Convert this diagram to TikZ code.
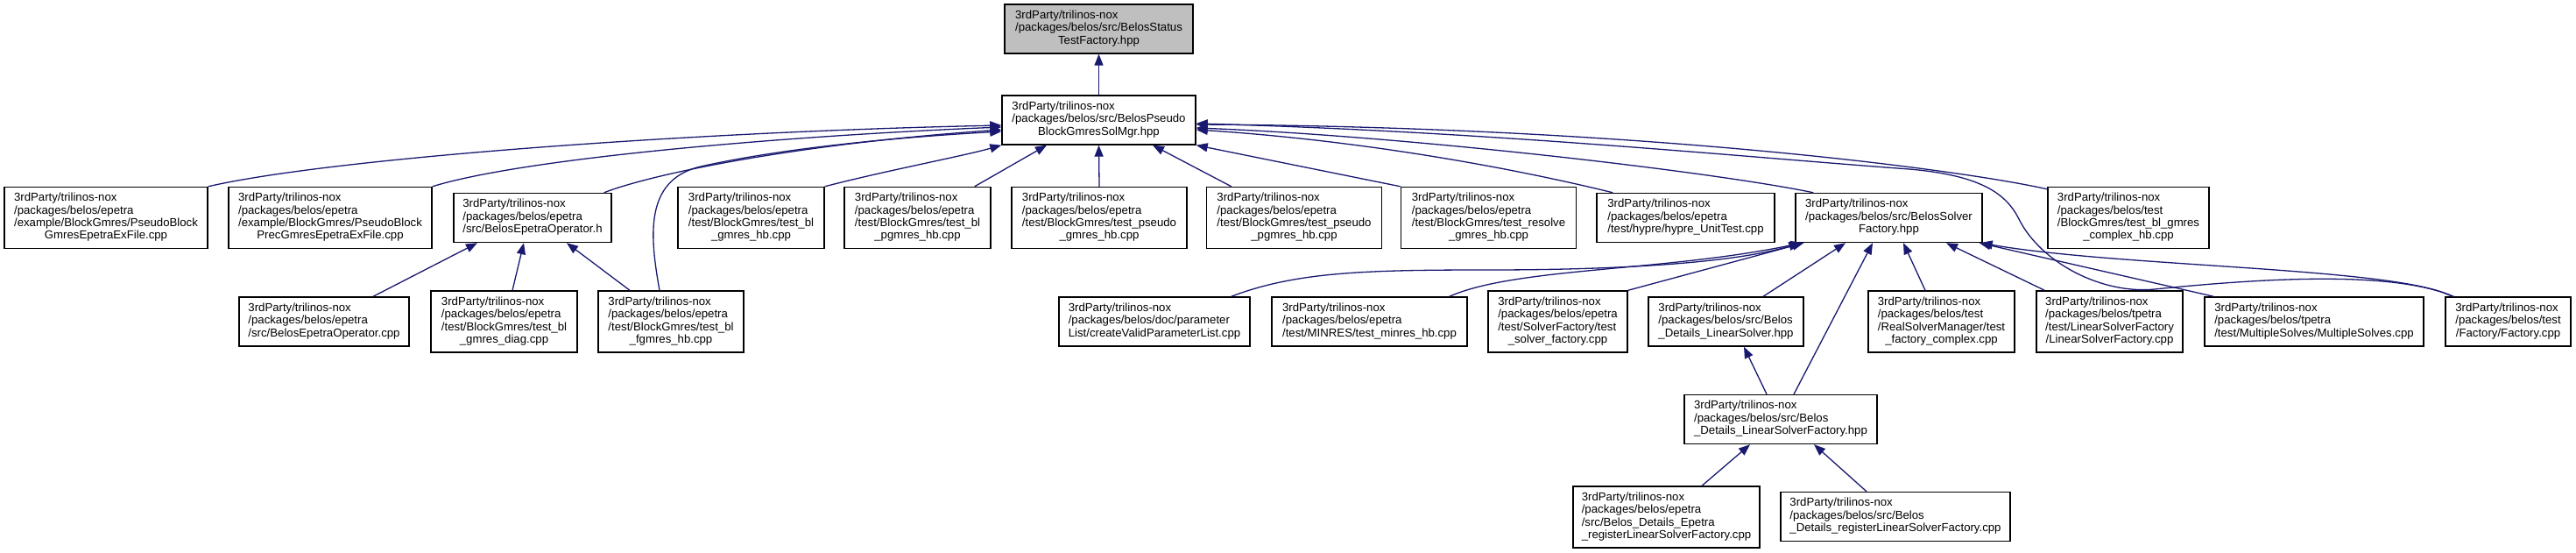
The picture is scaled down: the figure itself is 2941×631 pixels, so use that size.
\documentclass[tikz,border=0pt]{standalone}
\usepackage{fontspec}
\setmainfont{Liberation Sans}
\usetikzlibrary{arrows.meta}
\definecolor{edgeblue}{HTML}{191970}
\definecolor{rootgray}{HTML}{BFBFBF}
\newcommand\ftxt[2]{\begin{tabular}{@{}l@{}}#1\\\multicolumn{1}{@{}c@{}}{#2}\end{tabular}}
\begin{document}
\begin{tikzpicture}[x=1pt,y=-1pt,
  box/.style={draw=black, line width=1.4pt, fill=white, inner sep=0pt, minimum height=56pt,
    font=\fontsize{13.2pt}{14.4pt}\selectfont, text=black},
  tall/.style={minimum height=70pt},
  rootbox/.style={fill=rootgray},
  dep/.style={draw=edgeblue, line width=1.3pt, -{Triangle[length=13pt,width=10pt]}}]
\fill[white] (0,0) rectangle (2941,631);
\useasboundingbox (0,0) rectangle (2941,631);

% top
\node[box,rootbox,minimum width=215pt] (root) at (1254.5,33) {\ftxt{3rdParty/trilinos-nox\\/packages/belos/src/BelosStatus}{TestFactory.hpp}};
\node[box,minimum width=221pt] (sol) at (1254.5,137) {\ftxt{3rdParty/trilinos-nox\\/packages/belos/src/BelosPseudo}{BlockGmresSolMgr.hpp}};

% row 2
\node[box,tall,minimum width=232pt] (a1) at (121,248.5) {\ftxt{3rdParty/trilinos-nox\\/packages/belos/epetra\\/example/BlockGmres/PseudoBlock}{GmresEpetraExFile.cpp}};
\node[box,tall,minimum width=232pt] (a2) at (377,248.5) {\ftxt{3rdParty/trilinos-nox\\/packages/belos/epetra\\/example/BlockGmres/PseudoBlock}{PrecGmresEpetraExFile.cpp}};
\node[box,minimum width=180pt] (a3) at (608,248.5) {\ftxt{3rdParty/trilinos-nox\\/packages/belos/epetra}{/src/BelosEpetraOperator.h}};
\node[box,tall,minimum width=167pt] (a4) at (857.5,248.5) {\ftxt{3rdParty/trilinos-nox\\/packages/belos/epetra\\/test/BlockGmres/test\_bl}{\_gmres\_hb.cpp}};
\node[box,tall,minimum width=167pt] (a5) at (1047.5,248.5) {\ftxt{3rdParty/trilinos-nox\\/packages/belos/epetra\\/test/BlockGmres/test\_bl}{\_pgmres\_hb.cpp}};
\node[box,tall,minimum width=200pt] (a6) at (1255,248.5) {\ftxt{3rdParty/trilinos-nox\\/packages/belos/epetra\\/test/BlockGmres/test\_pseudo}{\_gmres\_hb.cpp}};
\node[box,tall,minimum width=200pt] (a7) at (1477.5,248.5) {\ftxt{3rdParty/trilinos-nox\\/packages/belos/epetra\\/test/BlockGmres/test\_pseudo}{\_pgmres\_hb.cpp}};
\node[box,tall,minimum width=200pt] (a8) at (1699.5,248.5) {\ftxt{3rdParty/trilinos-nox\\/packages/belos/epetra\\/test/BlockGmres/test\_resolve}{\_gmres\_hb.cpp}};
\node[box,minimum width=203pt] (a9) at (1924.5,248.5) {\ftxt{3rdParty/trilinos-nox\\/packages/belos/epetra}{/test/hypre/hypre\_UnitTest.cpp}};
\node[box,minimum width=213pt] (a10) at (2156.5,248.5) {\ftxt{3rdParty/trilinos-nox\\/packages/belos/src/BelosSolver}{Factory.hpp}};
\node[box,tall,minimum width=184pt] (a11) at (2430,248.5) {\ftxt{3rdParty/trilinos-nox\\/packages/belos/test\\/BlockGmres/test\_bl\_gmres}{\_complex\_hb.cpp}};

% row 3
\node[box,minimum width=194pt] (b1) at (370,367) {\ftxt{3rdParty/trilinos-nox\\/packages/belos/epetra}{/src/BelosEpetraOperator.cpp}};
\node[box,tall,minimum width=167pt] (b2) at (575.5,367) {\ftxt{3rdParty/trilinos-nox\\/packages/belos/epetra\\/test/BlockGmres/test\_bl}{\_gmres\_diag.cpp}};
\node[box,tall,minimum width=166pt] (b3) at (766,367) {\ftxt{3rdParty/trilinos-nox\\/packages/belos/epetra\\/test/BlockGmres/test\_bl}{\_fgmres\_hb.cpp}};
\node[box,minimum width=218pt] (b4) at (1318,367) {\ftxt{3rdParty/trilinos-nox\\/packages/belos/doc/parameter}{List/createValidParameterList.cpp}};
\node[box,minimum width=223pt] (b5) at (1563.5,367) {\ftxt{3rdParty/trilinos-nox\\/packages/belos/epetra}{/test/MINRES/test\_minres\_hb.cpp}};
\node[box,tall,minimum width=159pt] (b6) at (1778.5,367) {\ftxt{3rdParty/trilinos-nox\\/packages/belos/epetra\\/test/SolverFactory/test}{\_solver\_factory.cpp}};
\node[box,minimum width=177pt] (b7) at (1970.5,367) {\ftxt{3rdParty/trilinos-nox\\/packages/belos/src/Belos}{\_Details\_LinearSolver.hpp}};
\node[box,tall,minimum width=167pt] (b8) at (2216.5,367) {\ftxt{3rdParty/trilinos-nox\\/packages/belos/test\\/RealSolverManager/test}{\_factory\_complex.cpp}};
\node[box,tall,minimum width=167pt] (b9) at (2408.5,367) {\ftxt{3rdParty/trilinos-nox\\/packages/belos/tpetra\\/test/LinearSolverFactory}{/LinearSolverFactory.cpp}};
\node[box,minimum width=250pt] (b10) at (2642,367) {\ftxt{3rdParty/trilinos-nox\\/packages/belos/tpetra}{/test/MultipleSolves/MultipleSolves.cpp}};
\node[box,minimum width=143pt] (b11) at (2863.5,367) {\ftxt{3rdParty/trilinos-nox\\/packages/belos/test}{/Factory/Factory.cpp}};

% row 4, 5
\node[box,minimum width=220pt] (c1) at (2033,478.5) {\ftxt{3rdParty/trilinos-nox\\/packages/belos/src/Belos}{\_Details\_LinearSolverFactory.hpp}};
\node[box,tall,minimum width=213pt] (d1) at (1902.5,590) {\ftxt{3rdParty/trilinos-nox\\/packages/belos/epetra\\/src/Belos\_Details\_Epetra}{\_registerLinearSolverFactory.cpp}};
\node[box,minimum width=262pt] (d2) at (2164,589.5) {\ftxt{3rdParty/trilinos-nox\\/packages/belos/src/Belos}{\_Details\_registerLinearSolverFactory.cpp}};

% edges
\draw[dep] (sol.north) -- (root.south);

\draw[dep] (a1.north east) .. controls (380,180) and (800,150) .. ([yshift=-6pt]sol.west);
\draw[dep] (a2.north east) .. controls (600,180) and (900,155) .. ([yshift=-8pt]sol.west);
\draw[dep] ([xshift=-9pt]a3.north east) .. controls (740,200) and (900,165) .. ([yshift=-11pt]sol.west);
\draw[dep] ([xshift=-13pt]b3.north) .. controls (742,270) and (735,205) .. (800,190) .. controls (880,172) and (1000,158) .. ([yshift=-13pt]sol.west);
\draw[dep] (a4.north east) .. controls (1010,195) and (1100,178) .. (sol.south west);
\draw[dep] ([xshift=-19pt]a5.north east) -- ([xshift=-59.5pt]sol.south);
\draw[dep] (a6.north) -- (sol.south);
\draw[dep] ([xshift=29pt]a7.north west) -- ([xshift=61.5pt]sol.south);
\draw[dep] (a8.north west) -- (sol.south east);
\draw[dep] ([xshift=19pt]a9.north west) .. controls (1720,190) and (1550,160) .. ([yshift=-11pt]sol.east);
\draw[dep] ([xshift=21pt]a10.north west) .. controls (1950,195) and (1600,155) .. ([yshift=-9pt]sol.east);
\draw[dep] ([yshift=-3pt]a11.north west) .. controls (2220,190) and (1850,145) .. ([yshift=-5pt]sol.east);
\draw[dep] ([xshift=10pt]b11.north west) .. controls (2730,308) and (2580,318) .. (2460,330) .. controls (2400,336) and (2330,300) .. (2305,250) .. controls (2290,220) and (2260,200) .. (2180,193) .. controls (2000,180) and (1700,150) .. ([yshift=-4pt]sol.east);

\draw[dep] ([xshift=-22pt]b4.north east) .. controls (1480,310) and (1560,308) .. (1700,308) .. controls (1850,308) and (1980,300) .. ([xshift=6pt]a10.south west);
\draw[dep] ([xshift=-21pt]b5.north east) .. controls (1730,305) and (1900,310) .. ([xshift=8pt]a10.south west);
\draw[dep] (b6.north east) -- ([xshift=10pt]a10.south west);
\draw[dep] ([xshift=42.5pt]b7.north) -- ([xshift=-49.5pt]a10.south);
\draw[dep] ([xshift=15pt]c1.north) -- ([xshift=-18.5pt]a10.south);
\draw[dep] ([xshift=-18.5pt]b8.north) -- ([xshift=16.5pt]a10.south);
\draw[dep] ([xshift=10pt]b9.north west) -- ([xshift=65.5pt]a10.south);
\draw[dep] ([xshift=11pt]b10.north west) -- ([xshift=-4pt]a10.south east);
\draw[dep] ([xshift=8pt]b11.north west) .. controls (2740,305) and (2420,305) .. ([xshift=-2pt]a10.south east);

\draw[dep] ([xshift=-16pt]c1.north) -- ([xshift=20.5pt]b7.south);
\draw[dep] ([xshift=40.5pt]d1.north) -- ([xshift=-35pt]c1.south);
\draw[dep] ([xshift=-33pt]d2.north) -- ([xshift=38pt]c1.south);

\draw[dep] ([xshift=56pt]b1.north) -- ([xshift=-63pt]a3.south);
\draw[dep] ([xshift=9.5pt]b2.north) -- ([xshift=-10pt]a3.south);
\draw[dep] ([xshift=-47pt]b3.north) -- ([xshift=39pt]a3.south);
\end{tikzpicture}
\end{document}
